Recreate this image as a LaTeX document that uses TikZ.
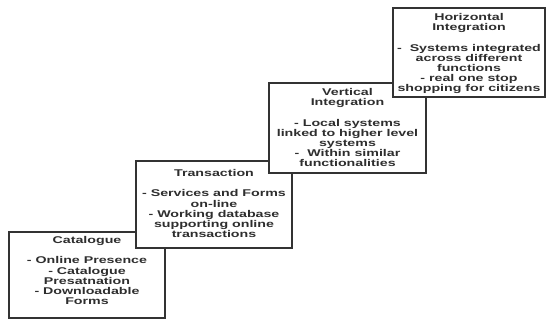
\documentclass[tikz,border=0pt]{standalone}
\usepackage{fontspec}
\usepackage{graphicx}
\setmainfont{Liberation Sans}
\newcommand{\stx}[1]{\scalebox{1.45}[1]{\begin{tabular}{@{}c@{}}#1\end{tabular}}}
\begin{document}
\begin{tikzpicture}[x=1pt,y=-1pt,
  stage/.style={draw=black!80, line width=1.2pt, fill=white, rectangle, inner sep=0pt},
  stagetext/.style={anchor=north, inner sep=0pt, text=black!82,
    font=\fontsize{9.8}{10}\selectfont\bfseries}]
\useasboundingbox[fill=white] (0,0) rectangle (546,320);
% boxes (drawn lower to higher so each overlaps the previous)
\node[stage, minimum width=156pt, minimum height=86pt] (cat) at (87,275) {};
\node[stagetext] (catT) at (87,236.5) {\stx{Catalogue\\ \\- Online Presence\\- Catalogue\\Presatnation\\- Downloadable\\Forms}};
\node[stage, minimum width=156pt, minimum height=87pt] (tra) at (214,204.5) {};
\node[stagetext] (traT) at (214,169.5) {\stx{Transaction\\ \\- Services and Forms\\on-line\\- Working database\\supporting online\\transactions}};
\node[stage, minimum width=157pt, minimum height=90pt] (ver) at (347.5,128) {};
\node[stagetext] (verT) at (347.5,88.5) {\stx{Vertical\\Integration\\ \\- Local systems\\linked to higher level\\systems\\-\ \ Within similar\\functionalities}};
\node[stage, minimum width=152pt, minimum height=89pt] (hor) at (469,52.5) {};
\node[stagetext] (horT) at (469,13.5) {\stx{Horizontal\\Integration\\ \\-\ \ Systems integrated\\across different\\functions\\- real one stop\\shopping for citizens}};
\end{tikzpicture}
\end{document}
